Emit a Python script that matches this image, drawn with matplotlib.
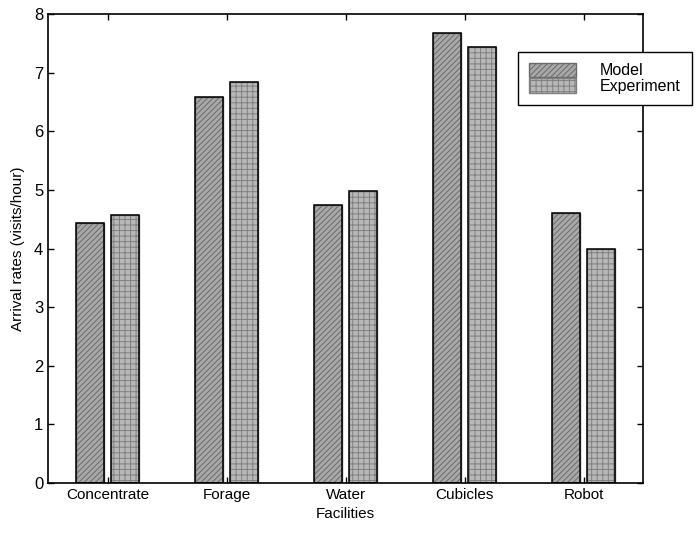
import matplotlib.pyplot as plt
import numpy as np

plt.rcParams['font.family'] = ['Liberation Sans', 'DejaVu Sans']
plt.rcParams['hatch.linewidth'] = 0.7

categories = ["Concentrate", "Forage", "Water", "Cubicles", "Robot"]
model = [4.44, 6.59, 4.74, 7.68, 4.61]
experiment = [4.57, 6.85, 4.98, 7.44, 3.99]
y_ticks = [0, 1, 2, 3, 4, 5, 6, 7, 8]


def main():
    fig = plt.figure(figsize=(6.96, 5.34), dpi=100)
    ax = fig.add_axes([0.069, 0.0955, 0.855, 0.878])

    x = np.arange(1, len(categories) + 1)
    w = 0.24
    ax.bar(x - 0.148, model, w, color="#a8a8a8", edgecolor="#6a6a6a",
           linewidth=1.0, hatch="//////", label="Model")
    ax.bar(x + 0.148, experiment, w, color="#b8b8b8", edgecolor="#808080",
           linewidth=1.0, hatch="+++", label="Experiment")

    # black outline over the hatched fill
    for p in list(ax.patches):
        ax.add_patch(plt.Rectangle(p.get_xy(), p.get_width(), p.get_height(),
                                   fill=False, edgecolor="black", linewidth=1.1))

    ax.set_xlim(0.5, 5.5)
    ax.set_ylim(0, 8)
    ax.set_xticks(x)
    ax.set_xticklabels(categories, fontsize=11)
    ax.set_yticks(y_ticks)
    ax.set_yticklabels([str(t) for t in y_ticks], fontsize=12)
    ax.tick_params(direction="in", top=True, right=True, length=4, width=1)
    for s in ax.spines.values():
        s.set_linewidth(1.2)

    ax.set_xlabel("Facilities", fontsize=11, labelpad=4)
    ax.set_ylabel("Arrival rates (visits/hour)", fontsize=11, labelpad=6)

    leg = ax.legend(loc="upper left", bbox_to_anchor=(0.79, 0.92),
                    fontsize=11.5, frameon=True, fancybox=False,
                    edgecolor="black", framealpha=1, labelspacing=0.0,
                    handlelength=2.9, handleheight=1.0, handletextpad=1.5,
                    borderpad=0.7, borderaxespad=0)
    leg.get_frame().set_linewidth(1.0)

    fig.savefig("out.png", dpi=100)


if __name__ == "__main__":
    main()
